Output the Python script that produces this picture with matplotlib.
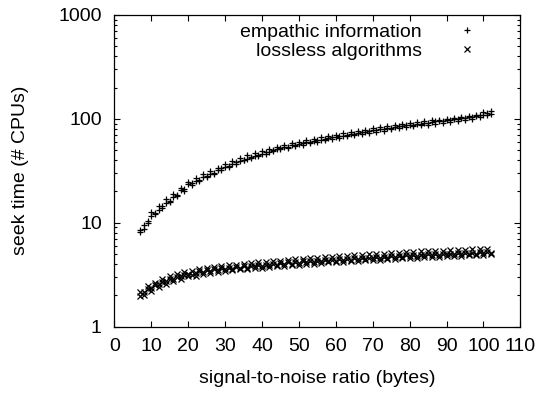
import matplotlib
matplotlib.use("Agg")
import matplotlib.pyplot as plt
from matplotlib.ticker import LogLocator, NullFormatter, FixedLocator

plt.rcParams['font.family'] = ['Liberation Sans', 'DejaVu Sans']

# values
snr = [7, 8, 9, 10, 11, 12, 13, 14, 15, 16, 17, 18, 19, 20, 21, 22, 23, 24, 25, 26,
       27, 28, 29, 30, 31, 32, 33, 34, 35, 36, 37, 38, 39, 40, 41, 42, 43, 44, 45, 46,
       47, 48, 49, 50, 51, 52, 53, 54, 55, 56, 57, 58, 59, 60, 61, 62, 63, 64, 65, 66,
       67, 68, 69, 70, 71, 72, 73, 74, 75, 76, 77, 78, 79, 80, 81, 82, 83, 84, 85, 86,
       87, 88, 89, 90, 91, 92, 93, 94, 95, 96, 97, 98, 99, 100, 101, 102]

empathic_a = [8.2, 8.8, 10.5, 11.5, 12.5, 13.2, 14.5, 15.5, 16.2, 17.5, 18.0, 20.5, 21.0, 23.5,
              24.0, 25.5, 26.0, 27.5, 28.0, 29.5, 30.0, 32.0, 33.5, 34.5, 35.0, 37.0, 38.5, 39.0,
              40.5, 41.0, 42.5, 44.0, 45.0, 46.0, 47.5, 48.0, 50.0, 51.0, 52.0, 53.5, 54.0, 55.5,
              56.0, 57.0, 58.0, 59.5, 60.0, 61.0, 62.5, 63.0, 64.5, 65.0, 66.5, 67.0, 68.5, 69.0,
              70.5, 71.0, 72.0, 73.5, 74.0, 75.5, 76.0, 77.5, 78.0, 79.5, 80.0, 81.5, 82.0, 83.0,
              84.5, 85.0, 86.5, 87.0, 88.0, 89.5, 90.0, 91.5, 92.0, 93.0, 94.5, 95.0, 96.0, 97.5,
              98.0, 99.5, 100.0, 101.5, 102.0, 103.5, 104.0, 106.0, 108.0, 110.0, 113.0, 112.0]

empathic_b = [8.6, 9.5, 10.0, 12.8, 12.2, 14.6, 13.8, 16.9, 16.0, 19.0, 18.6, 21.8, 20.4, 24.6,
              23.2, 27.0, 25.2, 29.4, 27.4, 31.2, 29.4, 34.0, 32.4, 36.8, 34.2, 39.5, 37.0, 42.0,
              39.8, 44.5, 41.6, 46.8, 43.8, 49.5, 46.2, 51.8, 48.6, 54.0, 50.8, 56.2, 52.6, 58.5,
              54.8, 60.5, 56.6, 62.8, 58.4, 64.6, 60.4, 66.8, 62.2, 68.8, 64.2, 70.6, 66.0, 72.8,
              68.0, 74.6, 70.0, 76.8, 71.6, 78.6, 73.6, 80.8, 75.4, 82.6, 77.2, 84.8, 79.0, 86.6,
              81.0, 88.6, 82.8, 90.6, 84.6, 92.6, 86.4, 94.4, 88.2, 96.6, 90.0, 98.4, 92.0, 100.2,
              93.8, 102.4, 95.6, 104.2, 97.4, 106.4, 99.2, 108.4, 104.0, 116.0, 110.0, 118.0]

lossless_a = [1.95, 2.15, 2.3, 2.35, 2.5, 2.55, 2.7, 2.75, 2.85, 2.9, 3.0, 3.05, 3.15, 3.2,
              3.15, 3.3, 3.4, 3.35, 3.5, 3.45, 3.6, 3.5, 3.65, 3.6, 3.7, 3.55, 3.75, 3.7,
              3.8, 3.65, 3.85, 3.8, 3.9, 3.85, 3.95, 3.9, 4.05, 3.95, 4.1, 4.0, 4.15, 4.05,
              4.2, 4.1, 4.25, 4.15, 4.3, 4.2, 4.3, 4.25, 4.35, 4.3, 4.4, 4.3, 4.45, 4.35,
              4.5, 4.4, 4.55, 4.45, 4.6, 4.5, 4.6, 4.55, 4.65, 4.6, 4.7, 4.6, 4.75, 4.65,
              4.8, 4.7, 4.85, 4.75, 4.9, 4.8, 4.9, 4.85, 4.95, 4.85, 5.0, 4.9, 5.0, 4.95,
              5.05, 4.95, 5.1, 5.0, 5.1, 5.05, 5.15, 5.05, 5.2, 5.1, 5.25, 5.15]

lossless_b = [2.15, 2.0, 2.45, 2.2, 2.65, 2.4, 2.9, 2.6, 3.05, 2.75, 3.2, 2.9, 3.35, 3.05,
              3.45, 3.1, 3.55, 3.2, 3.7, 3.3, 3.75, 3.35, 3.85, 3.4, 3.9, 3.5, 3.95, 3.55,
              4.05, 3.6, 4.1, 3.65, 4.15, 3.7, 4.2, 3.75, 4.25, 3.8, 4.3, 3.85, 4.4, 3.9,
              4.45, 3.95, 4.5, 4.0, 4.6, 4.05, 4.6, 4.1, 4.65, 4.15, 4.7, 4.2, 4.75, 4.2,
              4.8, 4.25, 4.85, 4.3, 4.9, 4.35, 4.95, 4.4, 5.0, 4.4, 5.05, 4.45, 5.1, 4.5,
              5.15, 4.55, 5.2, 4.6, 5.25, 4.6, 5.3, 4.65, 5.3, 4.7, 5.35, 4.7, 5.4, 4.75,
              5.45, 4.8, 5.5, 4.8, 5.5, 4.85, 5.55, 4.9, 5.6, 4.9, 5.6, 4.95]

x_ticks = [0, 10, 20, 30, 40, 50, 60, 70, 80, 90, 100, 110]
y_ticks = [1, 10, 100, 1000]

fig = plt.figure(figsize=(5.42, 3.94), dpi=100)
ax = fig.add_axes([0.211, 0.171, 0.749, 0.791])

ax.plot(snr, empathic_a, linestyle='none', marker='+', ms=5, mew=0.9,
        color='black', label='empathic information')
ax.plot(snr, empathic_b, linestyle='none', marker='+', ms=5, mew=0.9, color='black')
ax.plot(snr, lossless_a, linestyle='none', marker='x', ms=3.8, mew=0.9,
        color='black', label='lossless algorithms')
ax.plot(snr, lossless_b, linestyle='none', marker='x', ms=3.8, mew=0.9, color='black')

ax.set_yscale('log')
ax.set_xlim(0, 110)
ax.set_ylim(1, 1000)
ax.xaxis.set_major_locator(FixedLocator(x_ticks))
ax.yaxis.set_major_locator(FixedLocator(y_ticks))
ax.set_yticklabels([str(v) for v in y_ticks])
ax.yaxis.set_minor_locator(LogLocator(base=10, subs=range(2, 10)))
ax.yaxis.set_minor_formatter(NullFormatter())

# gnuplot look: inward ticks mirrored on all sides
ax.tick_params(which='both', direction='in', top=True, right=True, labelsize=14, width=0.8)
ax.tick_params(which='major', length=4)
ax.tick_params(which='minor', length=2.2)
ax.tick_params(axis='x', pad=8)
ax.tick_params(axis='y', pad=9)
for s in ax.spines.values():
    s.set_linewidth(0.9)

ax.set_xlabel('signal-to-noise ratio (bytes)', fontsize=14, labelpad=11)
ax.set_ylabel('seek time (# CPUs)', fontsize=14, labelpad=21)

ax.legend(loc='upper right', bbox_to_anchor=(0.916, 0.973), markerfirst=False,
          frameon=False, fontsize=14, handlelength=2.0, handletextpad=1.3,
          borderpad=0, borderaxespad=0, labelspacing=0.05)

fig.savefig('out.png', dpi=100)
